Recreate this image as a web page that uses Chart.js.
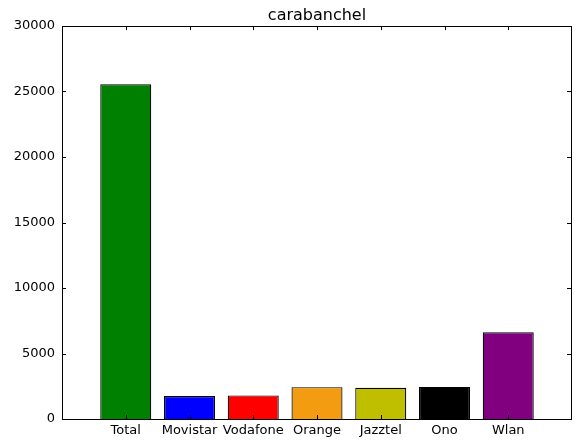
<!DOCTYPE html>
<html>
<head>
<meta charset="utf-8">
<script src="https://cdn.jsdelivr.net/npm/chart.js@4/dist/chart.umd.min.js"></script>
<style>
	html, body { margin: 0; padding: 0; background: #fff; }
	#wrap { width: 576px; height: 441px; }
</style>
</head>
<body>
<div id="wrap"><canvas id="chart" width="576" height="441"></canvas></div>
<script>
var categories = ['Total', 'Movistar', 'Vodafone', 'Orange', 'Jazztel', 'Ono', 'Wlan'];
var counts = [25550, 1750, 1800, 2430, 2380, 2450, 6620];
var barColors = ['#008000', '#0000ff', '#ff0000', '#f39c12', '#bfbf00', '#000000', '#800080'];
var yTicks = [0, 5000, 10000, 15000, 20000, 25000, 30000];
var chartTitle = 'carabanchel';

// matplotlib pads the x range by one slot each side, so add empty slots
var labels = [''].concat(categories).concat(['']);
var values = [null].concat(counts).concat([null]);
var colors = ['#fff'].concat(barColors).concat(['#fff']);

var frameAndTicks = {
	id: 'frameAndTicks',
	afterDraw: function(chart){
		var ctx = chart.ctx;
		var a = chart.chartArea;
		var xs = chart.scales.x;
		var ys = chart.scales.y;
		ctx.save();
		// title centred over the axes, like matplotlib
		ctx.fillStyle = '#000';
		ctx.font = '16px "DejaVu Sans"';
		ctx.textAlign = 'center';
		ctx.textBaseline = 'alphabetic';
		ctx.fillText(chartTitle, (a.left + a.right) / 2, 20);

		ctx.strokeStyle = '#000';
		ctx.lineWidth = 1;
		ctx.strokeRect(Math.round(a.left) + 0.5, Math.round(a.top) + 0.5,
			Math.round(a.right - a.left) - 1, Math.round(a.bottom - a.top));
		ctx.beginPath();
		for(var i = 0; i < categories.length; i++){
			var px = Math.round(xs.getPixelForValue(i + 1)) + 0.5;
			ctx.moveTo(px, a.bottom);
			ctx.lineTo(px, a.bottom - 4);
			ctx.moveTo(px, a.top);
			ctx.lineTo(px, a.top + 4);
		}
		yTicks.forEach(function(v){
			var py = Math.round(ys.getPixelForValue(v)) + 0.5;
			ctx.moveTo(a.left, py);
			ctx.lineTo(a.left + 4, py);
			ctx.moveTo(a.right - 1, py);
			ctx.lineTo(a.right - 5, py);
		});
		ctx.stroke();
		ctx.restore();
	}
};

var myChart = new Chart(document.getElementById('chart'), {
	type: 'bar',
	data: {
		labels: labels,
		datasets: [{
			data: values,
			backgroundColor: colors,
			borderColor: '#000',
			borderWidth: 1.2,
			barPercentage: 0.8,
			categoryPercentage: 1.0
		}]
	},
	options: {
		responsive: false,
		animation: false,
		layout: { padding: { left: 0, right: 1, top: 26, bottom: 0 } },
		plugins: {
			legend: { display: false },
			tooltip: { enabled: false },
			title: { display: false }
		},
		scales: {
			x: {
				type: 'category',
				offset: false,
				grid: { display: false, drawTicks: false },
				border: { display: false },
				ticks: {
					color: '#000',
					font: { family: 'DejaVu Sans', size: 13 },
					padding: 4,
					autoSkip: false,
					maxRotation: 0
				},
				afterFit: function(scale){ scale.height = 22; }
			},
			y: {
				min: 0,
				max: 30000,
				grid: { display: false, drawTicks: false },
				border: { display: false },
				ticks: {
					stepSize: 5000,
					color: '#000',
					font: { family: 'DejaVu Sans', size: 13 },
					padding: 7,
					callback: function(v){ return String(v); }
				},
				afterFit: function(scale){ scale.width = 62; }
			}
		}
	},
	plugins: [frameAndTicks]
});
</script>
</body>
</html>
